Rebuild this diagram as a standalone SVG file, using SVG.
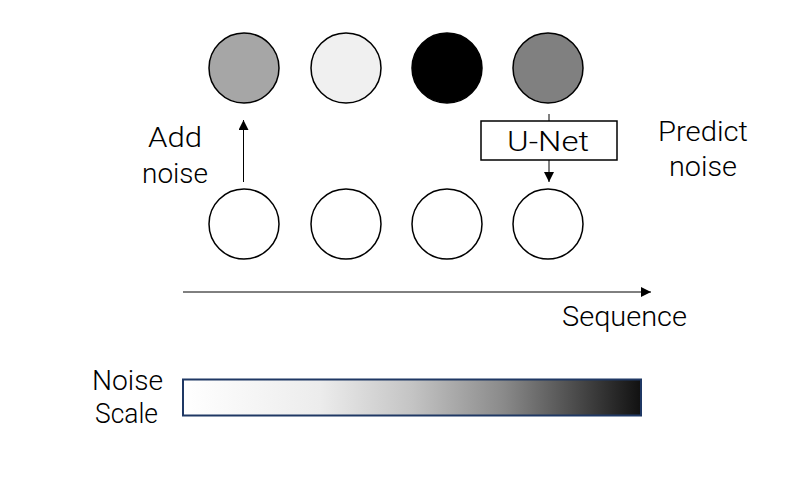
<svg xmlns="http://www.w3.org/2000/svg" width="796" height="484" viewBox="0 0 796 484">
<style>
  .c { stroke: #000; stroke-width: 1.5; }
  .ln { stroke: #000; stroke-width: 1; fill: none; }
  .t { font-family: Roboto, "Liberation Sans", sans-serif; font-weight: 300; font-size: 28px; fill: #000; }
  .s { font-size: 27px; }
</style>
<defs>
  <marker id="ah" viewBox="0 0 10 10" refX="10" refY="5" markerWidth="10" markerHeight="10" markerUnits="userSpaceOnUse" orient="auto">
    <path d="M0,0 L10,5 L0,10 z" fill="#000"/>
  </marker>
  <linearGradient id="g" x1="0" y1="0" x2="1" y2="0">
    <stop offset="0" stop-color="#ffffff"/>
    <stop offset="0.3" stop-color="#ececec"/>
    <stop offset="0.5" stop-color="#c4c4c4"/>
    <stop offset="0.7" stop-color="#8a8a8a"/>
    <stop offset="0.85" stop-color="#4e4e4e"/>
    <stop offset="1" stop-color="#111111"/>
  </linearGradient>
</defs>
<rect width="796" height="484" fill="#fff"/>
<g id="top1"><circle class="c" cx="244" cy="68" r="35" fill="#a6a6a6"/></g>
<g id="top2"><circle class="c" cx="346" cy="68" r="35" fill="#f0f0f0"/></g>
<g id="top3"><circle class="c" cx="447" cy="68" r="35" fill="#000"/></g>
<g id="top4"><circle class="c" cx="548" cy="68" r="35" fill="#808080"/></g>
<g id="bot1"><circle class="c" cx="244" cy="224" r="35" fill="#fff"/></g>
<g id="bot2"><circle class="c" cx="346" cy="224" r="35" fill="#fff"/></g>
<g id="bot3"><circle class="c" cx="447" cy="224" r="35" fill="#fff"/></g>
<g id="bot4"><circle class="c" cx="548" cy="224" r="35" fill="#fff"/></g>
<g id="unet">
  <rect x="481" y="121" width="136" height="39" fill="#fff" stroke="#000" stroke-width="1.5"/>
  <text class="t" x="507" y="151" textLength="82" lengthAdjust="spacingAndGlyphs">U-Net</text>
</g>
<g id="noise-bar">
  <rect x="183" y="379.5" width="458" height="36" fill="url(#g)" stroke="#1f3864" stroke-width="2"/>
</g>
<g id="connectors">
  <line class="ln" x1="243.5" y1="182" x2="243.5" y2="120" marker-end="url(#ah)"/>
  <line class="ln" x1="549" y1="114" x2="549" y2="121"/>
  <line class="ln" x1="549" y1="160" x2="549" y2="182" marker-end="url(#ah)"/>
  <line class="ln" x1="183" y1="292" x2="651" y2="292" marker-end="url(#ah)"/>
</g>
<g id="labels">
  <text class="t" x="148" y="147" textLength="54" lengthAdjust="spacingAndGlyphs">Add</text>
  <text class="t" x="142" y="183" textLength="66" lengthAdjust="spacingAndGlyphs">noise</text>
  <text class="t" x="658" y="141" textLength="90" lengthAdjust="spacingAndGlyphs">Predict</text>
  <text class="t" x="669" y="176" textLength="68" lengthAdjust="spacingAndGlyphs">noise</text>
  <text class="t" x="562" y="326" textLength="125" lengthAdjust="spacingAndGlyphs">Sequence</text>
  <text class="t s" x="92" y="390" textLength="71" lengthAdjust="spacingAndGlyphs">Noise</text>
  <text class="t s" x="95" y="423" textLength="63" lengthAdjust="spacingAndGlyphs">Scale</text>
</g>
</svg>
